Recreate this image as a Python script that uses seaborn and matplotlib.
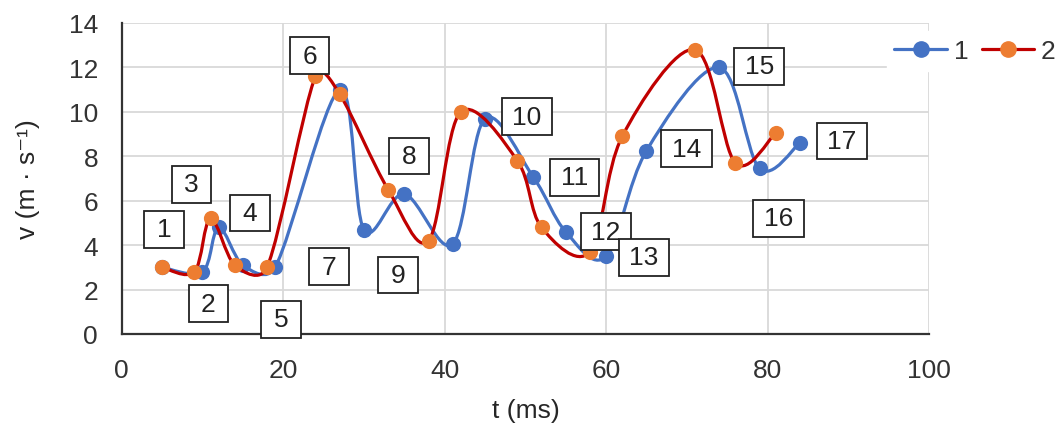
import numpy as np
import seaborn as sns
import matplotlib.pyplot as plt
from matplotlib.path import Path
from matplotlib.patches import PathPatch
from matplotlib.lines import Line2D

# series 1 (blue) and series 2 (orange)
t1 = [5, 10, 12, 15, 19, 27, 30, 35, 41, 45, 51, 55, 60, 65, 74, 79, 84]
v1 = [3.0, 2.8, 4.8, 3.1, 3.0, 11.0, 4.7, 6.3, 4.05, 9.7, 7.05, 4.6, 3.5, 8.25, 12.0, 7.45, 8.6]
t2 = [5, 9, 11, 14, 18, 24, 27, 33, 38, 42, 49, 52, 58, 62, 71, 76, 81]
v2 = [3.0, 2.8, 5.2, 3.1, 3.0, 11.6, 10.8, 6.5, 4.2, 10.0, 7.8, 4.8, 3.7, 8.9, 12.8, 7.7, 9.05]
series_names = ['1', '2']
point_labels = [str(i) for i in range(1, 18)]

x_ticks = [0, 20, 40, 60, 80, 100]
y_ticks = [0, 2, 4, 6, 8, 10, 12, 14]

# where each label box sits relative to its blue point (pixels, y up)
label_offsets = [(2, 38), (6, -32), (-27, 43), (7, 52), (6, -52), (-30, 34),
                 (-35, -37), (5, 38), (-55, -31), (42, 2), (41, 0), (40, 0),
                 (38, -1), (40, 2), (40, 1), (19, -50), (42, 2)]

BLUE = '#4472C4'
RED = '#C00000'
ORANGE = '#ED7D31'
TEXT = '#333333'

sns.set_style('white')
plt.rcParams['font.family'] = ['Liberation Sans', 'DejaVu Sans']
plt.rcParams['font.size'] = 19
plt.rcParams['text.color'] = TEXT


def smooth_path(ax, xs, ys):
    # spreadsheet-style smoothed line: Bezier segments, control points
    # worked out in screen space and capped so short segments don't overshoot
    pts = ax.transData.transform(np.column_stack([xs, ys]).astype(float))
    p = np.vstack([pts[0], pts, pts[-1]])
    verts = [pts[0]]
    codes = [Path.MOVETO]
    for i in range(1, len(p) - 2):
        p0, p1, p2, p3 = p[i - 1], p[i], p[i + 1], p[i + 2]
        d12 = np.hypot(*(p2 - p1))
        d02 = np.hypot(*(p2 - p0))
        d13 = np.hypot(*(p3 - p1))
        f1 = 1 / 6 if d02 / 6 < d12 / 2 else d12 / (2 * d02) if d02 > 0 else 0
        f2 = 1 / 6 if d13 / 6 < d12 / 2 else d12 / (2 * d13) if d13 > 0 else 0
        c1 = p1 + (p2 - p0) * f1
        c2 = p2 - (p3 - p1) * f2
        verts += [c1, c2, p2]
        codes += [Path.CURVE4] * 3
    verts = ax.transData.inverted().transform(np.array(verts))
    return Path(verts, codes)


def label_box(x0, y0, width, height, mutation_size):
    px = 0.4 * mutation_size
    py = 0.24 * mutation_size
    w = max(width + 2 * px, 1.5 * mutation_size)
    cx = x0 + width / 2
    xa, xb = cx - w / 2, cx + w / 2
    ya, yb = y0 - py, y0 + height + py
    return Path([(xa, ya), (xb, ya), (xb, yb), (xa, yb), (xa, ya)], closed=True)


fig = plt.figure(figsize=(10.63, 4.27), dpi=100)
ax = fig.add_axes([0.1145, 0.2155, 0.7595, 0.7283])
ax.set_xlim(0, 100)
ax.set_ylim(0, 14)

ax.add_patch(PathPatch(smooth_path(ax, t1, v1), fill=False, ec=BLUE, lw=2.3,
                       capstyle='round', joinstyle='round', zorder=3))
sns.scatterplot(x=t1, y=v1, color=BLUE, s=120, linewidth=0, ax=ax, zorder=4)
ax.add_patch(PathPatch(smooth_path(ax, t2, v2), fill=False, ec=RED, lw=2.3,
                       capstyle='round', joinstyle='round', zorder=5))
sns.scatterplot(x=t2, y=v2, color=ORANGE, s=120, linewidth=0, ax=ax, zorder=6)

for lab, xv, yv, off in zip(point_labels, t1, v1, label_offsets):
    ax.annotate(lab, (xv, yv), xytext=off, textcoords='offset pixels',
                ha='center', va='center', color='#222222', zorder=10,
                annotation_clip=False,
                bbox=dict(boxstyle=label_box, fc='white', ec='#222222', lw=1.3))

ax.set_xticks(x_ticks)
ax.set_yticks(y_ticks)
ax.grid(True, color='#d9d9d9', lw=1.3)
ax.set_axisbelow(True)
for side in ['top', 'right']:
    ax.spines[side].set_visible(False)
for side in ['left', 'bottom']:
    ax.spines[side].set_color('#333333')
    ax.spines[side].set_linewidth(1.6)
ax.tick_params(length=0, pad=17, labelcolor=TEXT)
ax.set_xlabel('t (ms)', labelpad=12)
ax.set_ylabel('v (m · s\u207b\u00b9)', labelpad=21)

handles = [Line2D([], [], color=BLUE, lw=2.3, marker='o', ms=11, mfc=BLUE, mec=BLUE),
           Line2D([], [], color=RED, lw=2.3, marker='o', ms=11, mfc=ORANGE, mec=ORANGE)]
leg = fig.legend(handles, series_names, loc='center left', bbox_to_anchor=(0.834, 0.878),
                 ncol=2, frameon=True, fancybox=False, edgecolor='white',
                 facecolor='white', framealpha=1, handlelength=2.0,
                 handletextpad=0.25, columnspacing=0.5, borderpad=0.3,
                 borderaxespad=0)

fig.savefig('out.png', dpi=100)
